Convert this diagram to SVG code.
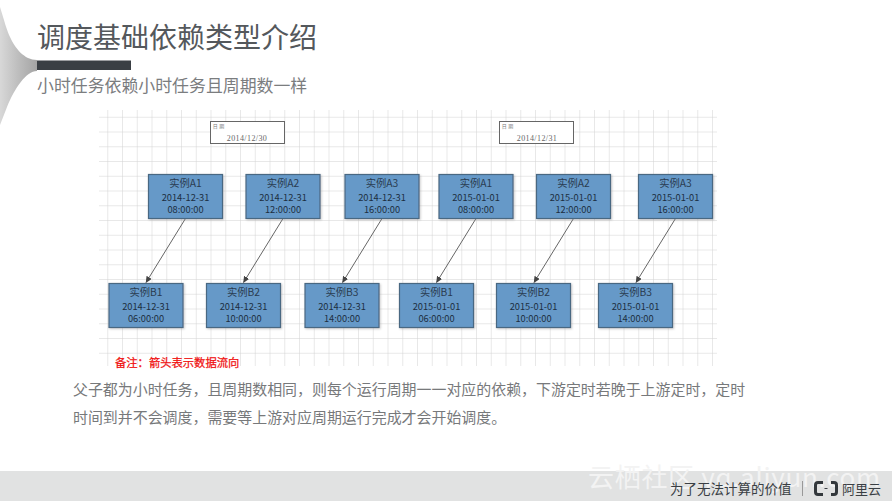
<svg xmlns="http://www.w3.org/2000/svg" width="892" height="501" viewBox="0 0 892 501">
<style>
text{font-family:"Noto Sans CJK SC","Noto Sans",sans-serif}
.box{fill:#6699c8;stroke:#486782;stroke-width:1.200;filter:url(#sh)}
.nt{font-size:9.300px;fill:#1c2e40;text-anchor:middle}
.nh{font-size:10.300px;fill:#2a3c50;text-anchor:middle}
.date{fill:#fff;stroke:#666;stroke-width:1}
.dl{font-size:5px;fill:#777;letter-spacing:1.500px}
.dv{font-family:"Liberation Serif",serif;font-size:8px;fill:#666;text-anchor:middle;letter-spacing:.4px}
.body{font-size:14.950px;fill:#77797b}
.conn{stroke:#666;stroke-width:1;fill:none;marker-end:url(#ah)}
</style>
<defs>
<linearGradient id="fan" x1="0" y1="0" x2="1" y2="0"><stop offset="0" stop-color="#d8d8d8"/><stop offset=".5" stop-color="#bdbdbd"/><stop offset="1" stop-color="#a4a4a4"/></linearGradient>
<pattern id="grid" x="93.500" y="103" width="14.750" height="14.750" patternUnits="userSpaceOnUse"><path d="M14.750 0V14.750M0 14.750H14.750" stroke="#d2d2d2" stroke-width="1" fill="none"/></pattern>
<marker id="ah" markerWidth="7" markerHeight="7" refX="6" refY="3" orient="auto" markerUnits="userSpaceOnUse"><path d="M0 0L6.500 3L0 6Z" fill="#444"/></marker>
<filter id="sh" x="-5%" y="-5%" width="112%" height="115%"><feDropShadow dx="1" dy="1" stdDeviation="1" flood-color="#888" flood-opacity=".45"/></filter>
</defs>
<rect width="892" height="501" fill="#fff"/>
<path d="M0 7C4 20 7 31 10 37C15 48 24 60 37 60V71C26 71 15 88 7 107L0 125Z" fill="url(#fan)"/>
<rect x="37" y="60.500" width="94" height="9.500" fill="#3a3f44"/>
<text x="37" y="48" font-size="28" fill="#54585c">调度基础依赖类型介绍</text>
<text x="37" y="92" font-size="16.900" fill="#7b7d7f">小时任务依赖小时任务且周期数一样</text>
<rect x="99" y="110" width="618" height="256" fill="url(#grid)"/>
<g id="date1"><rect class="date" x="210.500" y="121.500" width="74" height="22"/><text class="dl" x="212.700" y="127.800">日期</text><text class="dv" x="247" y="141">2014/12/30</text></g>
<g id="date2"><rect class="date" x="499.500" y="121.500" width="74" height="22"/><text class="dl" x="501.700" y="127.800">日期</text><text class="dv" x="537" y="141">2014/12/31</text></g>
<g id="connectors">
<path class="conn" d="M185.500 218.500L146 282.500"/>
<path class="conn" d="M283 218.500L243.500 282.500"/>
<path class="conn" d="M382 218.500L342.500 282.500"/>
<path class="conn" d="M476 218.500L436.500 282.500"/>
<path class="conn" d="M573.500 218.500L534 282.500"/>
<path class="conn" d="M675.500 218.500L636 282.500"/>
</g>
<g id="a1"><rect class="box" x="148.500" y="174.500" width="74" height="44"/><text class="nh" x="185.500" y="187">实例A1</text><text class="nt" x="185.500" y="200.500">2014-12-31</text><text class="nt" x="185.500" y="213">08:00:00</text></g>
<g id="a2"><rect class="box" x="246" y="174.500" width="74" height="44"/><text class="nh" x="283" y="187">实例A2</text><text class="nt" x="283" y="200.500">2014-12-31</text><text class="nt" x="283" y="213">12:00:00</text></g>
<g id="a3"><rect class="box" x="345" y="174.500" width="74" height="44"/><text class="nh" x="382" y="187">实例A3</text><text class="nt" x="382" y="200.500">2014-12-31</text><text class="nt" x="382" y="213">16:00:00</text></g>
<g id="a4"><rect class="box" x="439" y="174.500" width="74" height="44"/><text class="nh" x="476" y="187">实例A1</text><text class="nt" x="476" y="200.500">2015-01-01</text><text class="nt" x="476" y="213">08:00:00</text></g>
<g id="a5"><rect class="box" x="536.500" y="174.500" width="74" height="44"/><text class="nh" x="573.500" y="187">实例A2</text><text class="nt" x="573.500" y="200.500">2015-01-01</text><text class="nt" x="573.500" y="213">12:00:00</text></g>
<g id="a6"><rect class="box" x="638.500" y="174.500" width="74" height="44"/><text class="nh" x="675.500" y="187">实例A3</text><text class="nt" x="675.500" y="200.500">2015-01-01</text><text class="nt" x="675.500" y="213">16:00:00</text></g>
<g id="b1"><rect class="box" x="109" y="283.500" width="74" height="44"/><text class="nh" x="146" y="296">实例B1</text><text class="nt" x="146" y="309.500">2014-12-31</text><text class="nt" x="146" y="322">06:00:00</text></g>
<g id="b2"><rect class="box" x="206.500" y="283.500" width="74" height="44"/><text class="nh" x="243.500" y="296">实例B2</text><text class="nt" x="243.500" y="309.500">2014-12-31</text><text class="nt" x="243.500" y="322">10:00:00</text></g>
<g id="b3"><rect class="box" x="305" y="283.500" width="74" height="44"/><text class="nh" x="342" y="296">实例B3</text><text class="nt" x="342" y="309.500">2014-12-31</text><text class="nt" x="342" y="322">14:00:00</text></g>
<g id="b4"><rect class="box" x="399.500" y="283.500" width="74" height="44"/><text class="nh" x="436.500" y="296">实例B1</text><text class="nt" x="436.500" y="309.500">2015-01-01</text><text class="nt" x="436.500" y="322">06:00:00</text></g>
<g id="b5"><rect class="box" x="496.500" y="283.500" width="74" height="44"/><text class="nh" x="533.500" y="296">实例B2</text><text class="nt" x="533.500" y="309.500">2015-01-01</text><text class="nt" x="533.500" y="322">10:00:00</text></g>
<g id="b6"><rect class="box" x="598.500" y="283.500" width="74" height="44"/><text class="nh" x="635.500" y="296">实例B3</text><text class="nt" x="635.500" y="309.500">2015-01-01</text><text class="nt" x="635.500" y="322">14:00:00</text></g>
<text x="115" y="367" font-size="11.300" fill="#f01010" stroke="#f01010" stroke-width=".25">备注：箭头表示数据流向</text>
<text class="body" x="73" y="395">父子都为小时任务，且周期数相同，则每个运行周期一一对应的依赖，下游定时若晚于上游定时，定时</text>
<text class="body" x="73" y="423">时间到并不会调度，需要等上游对应周期运行完成才会开始调度。</text>
<rect x="0" y="471" width="892" height="30" fill="#e1e2e2"/>
<text x="588" y="487" font-size="26" fill="#f3f3f3" textLength="292" lengthAdjust="spacing">云栖社区 yq.aliyun.com</text>
<text x="670" y="494" font-size="13.500" fill="#3a3f44">为了无法计算的价值</text>
<rect x="802" y="481" width="1" height="15" fill="#999"/>
<g id="logo"><path d="M823 482.500H818Q815.500 482.500 815.500 485V492Q815.500 494.500 818 494.500H823M831 482.500H834Q836.500 482.500 836.500 485V492Q836.500 494.500 834 494.500H831" fill="none" stroke="#33383c" stroke-width="3"/><rect x="824.500" y="488" width="3" height="1" fill="#3a3f44"/></g>
<text x="842" y="494" font-size="13" fill="#3a3f44">阿里云</text>
</svg>
